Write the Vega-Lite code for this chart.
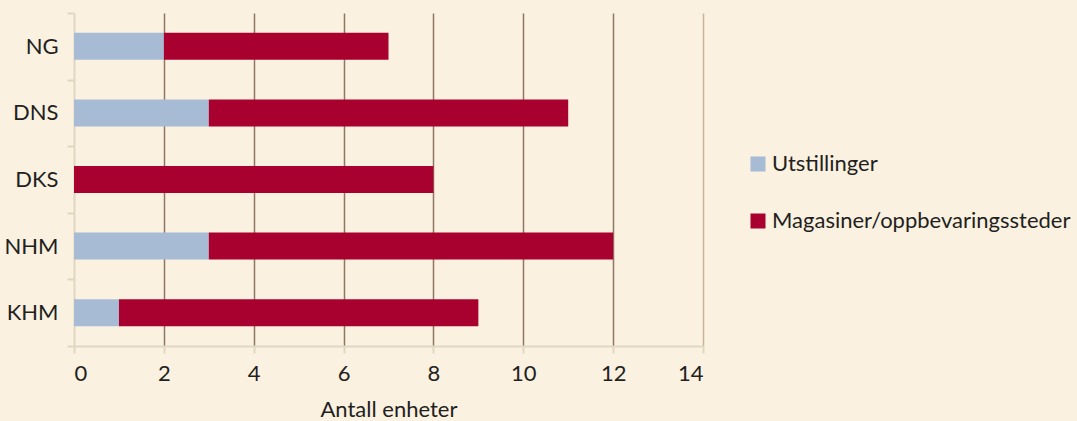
{
  "$schema": "https://vega.github.io/schema/vega-lite/v6.json",
  "width": 629,
  "height": 333,
  "autosize": {"type": "none"},
  "padding": {"left": 74, "top": 13, "right": 374, "bottom": 75},
  "background": "#faf1e1",
  "config": {
    "view": {"stroke": null},
    "font": "Lato",
    "axis": {
      "labelFont": "Lato",
      "titleFont": "Lato",
      "labelFontSize": 22,
      "titleFontSize": 22,
      "labelColor": "#231f20",
      "titleColor": "#231f20",
      "titleFontWeight": "normal",
      "domainColor": "#e0d7c3",
      "domainWidth": 2,
      "tickColor": "#e0d7c3",
      "tickWidth": 2,
      "tickSize": 7
    },
    "legend": {
      "labelFont": "Lato",
      "labelFontSize": 22,
      "labelColor": "#231f20",
      "labelLimit": 400
    }
  },
  "data": {
    "values": [
      {"museum": "NG", "type": "Utstillinger", "antall": 2},
      {"museum": "NG", "type": "Magasiner/oppbevaringssteder", "antall": 5},
      {"museum": "DNS", "type": "Utstillinger", "antall": 3},
      {"museum": "DNS", "type": "Magasiner/oppbevaringssteder", "antall": 8},
      {"museum": "DKS", "type": "Utstillinger", "antall": 0},
      {"museum": "DKS", "type": "Magasiner/oppbevaringssteder", "antall": 8},
      {"museum": "NHM", "type": "Utstillinger", "antall": 3},
      {"museum": "NHM", "type": "Magasiner/oppbevaringssteder", "antall": 9},
      {"museum": "KHM", "type": "Utstillinger", "antall": 1},
      {"museum": "KHM", "type": "Magasiner/oppbevaringssteder", "antall": 8}
    ]
  },
  "mark": {"type": "bar", "height": {"band": 0.405}},
  "encoding": {
    "y": {
      "field": "museum",
      "type": "nominal",
      "sort": ["NG", "DNS", "DKS", "NHM", "KHM"],
      "scale": {"padding": 0},
      "axis": {
        "title": null,
        "tickBand": "extent",
        "labelPadding": 9,
        "grid": false
      }
    },
    "x": {
      "field": "antall",
      "type": "quantitative",
      "stack": "zero",
      "scale": {"domain": [0, 14], "nice": false},
      "axis": {
        "title": "Antall enheter",
        "values": [0, 2, 4, 6, 8, 10, 12, 14],
        "labelPadding": 10,
        "titlePadding": 15,
        "grid": true,
        "gridColor": {
          "condition": [
            {"test": "datum.value === 0", "value": "transparent"},
            {"test": "datum.value === 14", "value": "#c9b39f"}
          ],
          "value": "#8f7764"
        },
        "gridWidth": 1.5
      }
    },
    "color": {
      "field": "type",
      "type": "nominal",
      "scale": {
        "domain": ["Utstillinger", "Magasiner/oppbevaringssteder"],
        "range": ["#a8bbd5", "#a8002f"]
      },
      "legend": {
        "title": null,
        "orient": "none",
        "legendX": 673,
        "legendY": 140,
        "symbolType": "square",
        "symbolSize": 225,
        "symbolStrokeWidth": 0,
        "labelOffset": 3,
        "rowPadding": 35
      }
    },
    "order": {"field": "type", "sort": "descending"}
  }
}
